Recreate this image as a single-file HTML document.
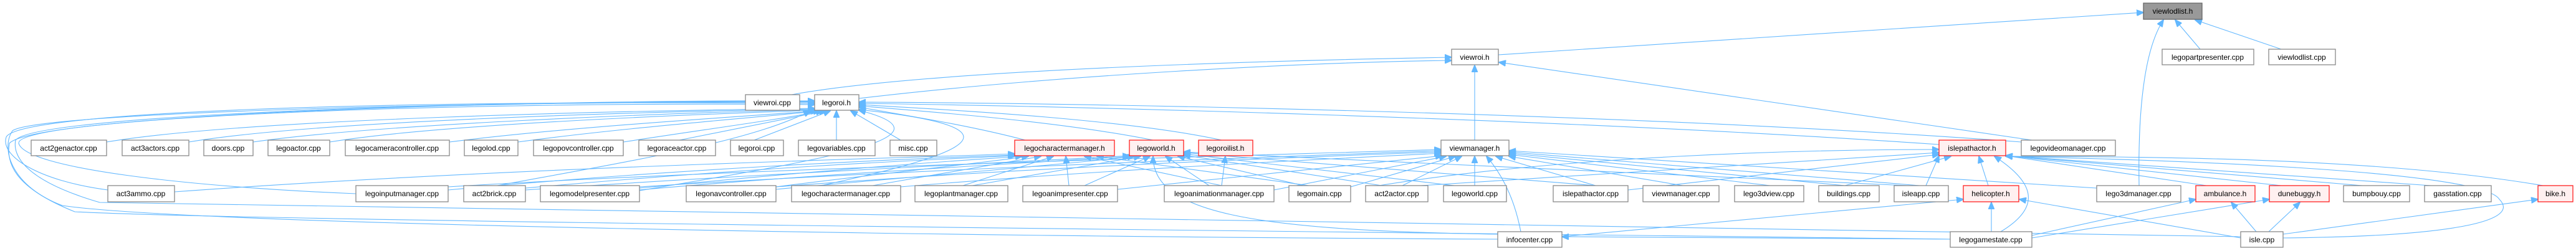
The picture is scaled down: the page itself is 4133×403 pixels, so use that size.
<!DOCTYPE html>
<html><head><meta charset="utf-8"><style>
html,body{margin:0;padding:0;background:#fff;}
svg{display:block;}
text{font-family:"Liberation Sans",Arial,sans-serif;font-size:12px;fill:#000;}
.n{fill:#fff;stroke:#888;stroke-width:1.3;}
.r{fill:#fff0f0;stroke:#ff2020;stroke-width:1.3;}
.g{fill:#999;stroke:#666;stroke-width:1.3;}
.e{fill:none;stroke:#63b8ff;stroke-width:1.1;}
</style></head><body>
<svg width="4133" height="403" viewBox="0 0 4133 403" xmlns="http://www.w3.org/2000/svg">
<defs><marker id="a" markerWidth="12" markerHeight="10" refX="11" refY="5" orient="auto" markerUnits="userSpaceOnUse"><path d="M0,0 L12,5 L0,10 z" fill="#63b8ff" stroke="#63b8ff"/></marker></defs>
<g class="e" marker-end="url(#a)">
<!-- viewlodlist.h -->
<path d="M2404,88 L3439,20"/>
<path d="M3530,79 L3490,32"/>
<path d="M3660,79 L3522,32"/>
<path d="M3432,298 C3430,180 3440,80 3471,32"/>
<!-- viewroi.h -->
<path d="M1270,152 C1500,110 2100,96 2329,92"/>
<path d="M1378,158 C1700,120 2100,100 2329,97"/>
<path d="M2366,225 L2366,105"/>
<path d="M3260,225 L2405,100"/>
<!-- legoroi.h from row4 -->
<path d="M171,228 C400,190 1000,178 1307,174"/>
<path d="M303,228 C500,195 1000,180 1307,175"/>
<path d="M406,228 C600,200 1050,182 1307,176"/>
<path d="M529,228 C700,200 1100,184 1309,177"/>
<path d="M721,228 C900,205 1150,190 1312,178"/>
<path d="M831,228 C1000,205 1200,190 1316,178"/>
<path d="M1000,228 C1150,205 1250,192 1320,178"/>
<path d="M1090,225 L1325,178"/>
<path d="M1210,225 L1332,178"/>
<path d="M1342,225 L1342,178"/>
<path d="M1445,225 L1365,178"/>
<path d="M1645,225 C1550,200 1450,185 1378,172"/>
<path d="M1850,225 C1700,195 1500,180 1378,170"/>
<path d="M1960,225 C1800,190 1500,175 1378,168"/>
<path d="M3111,232 C2500,190 1700,170 1378,166"/>
<path d="M3243,228 C2600,180 1700,165 1378,164"/>
<!-- legoroi.h long loops from row5/6 -->
<path d="M173,305 C60,290 0,250 10,220 C30,180 600,160 1307,166"/>
<path d="M571,311 C300,300 40,270 30,230 C25,190 700,162 1307,168"/>
<path d="M2403,384 C1500,380 300,360 100,330 C20,300 0,240 20,210 C60,180 800,162 1307,164"/>
<path d="M3129,384 C2000,370 400,355 120,340 C20,300 10,260 15,230 C60,185 800,160 1307,163"/>
<path d="M3595,380 C2500,360 600,335 160,325 C40,290 20,250 25,225 C60,180 900,160 1307,162"/>
<path d="M744,308 C1000,260 1200,230 1300,178"/>
<path d="M1026,306 C1300,260 1550,220 1378,177"/>
<path d="M1270,308 C1500,260 1700,210 1378,176"/>
<!-- legocharactermanager.h -->
<path d="M280,308 C800,270 1400,255 1628,247"/>
<path d="M719,305 C1100,270 1450,255 1628,249"/>
<path d="M843,302 C1200,270 1450,258 1630,250"/>
<path d="M1026,302 C1300,275 1500,260 1640,251"/>
<path d="M1245,300 C1400,280 1550,265 1650,251"/>
<path d="M1400,298 L1670,251"/>
<path d="M1545,298 L1690,251"/>
<path d="M1715,298 L1710,251"/>
<path d="M1960,298 L1740,251"/>
<path d="M2100,298 L1760,251"/>
<!-- legoworld.h -->
<path d="M843,305 C1200,280 1600,262 1812,250"/>
<path d="M1026,305 C1300,280 1650,262 1815,251"/>
<path d="M1245,304 C1450,285 1700,265 1820,251"/>
<path d="M1560,298 L1830,251"/>
<path d="M1740,298 L1845,251"/>
<path d="M1940,298 L1870,251"/>
<path d="M2100,300 L1890,251"/>
<path d="M2230,300 L1899,249"/>
<path d="M2350,300 L1899,247"/>
<path d="M2403,376 C2000,370 1850,340 1850,251"/>
<path d="M2560,298 L1899,245"/>
<path d="M3060,298 L1899,244"/>
<!-- legoroilist.h -->
<path d="M1960,298 L1966,251"/>
<!-- viewmanager.h -->
<path d="M719,300 C1200,270 2000,250 2312,240"/>
<path d="M1026,300 C1500,270 2100,250 2312,242"/>
<path d="M1245,300 C1700,265 2150,250 2312,244"/>
<path d="M1445,300 C1800,270 2200,252 2312,246"/>
<path d="M1793,304 L2314,250"/>
<path d="M2044,305 L2320,251"/>
<path d="M2167,300 L2335,251"/>
<path d="M2250,298 L2345,251"/>
<path d="M2366,298 L2366,251"/>
<path d="M2440,372 C2430,320 2410,280 2385,251"/>
<path d="M2560,298 L2400,251"/>
<path d="M2700,298 L2421,251"/>
<path d="M2840,298 L2421,248"/>
<path d="M2960,298 L2421,246"/>
<path d="M3080,298 L2421,244"/>
<path d="M3364,302 L2421,242"/>
<!-- islepathactor.h -->
<path d="M2280,298 L3111,245"/>
<path d="M2612,305 L3111,248"/>
<path d="M2960,298 L3130,251"/>
<path d="M3090,298 L3111,250"/>
<path d="M3190,298 L3175,251"/>
<path d="M3210,372 C3280,330 3260,290 3200,251"/>
<path d="M2200,300 C2500,250 2900,240 3111,240"/>
<path d="M3540,298 L3218,250"/>
<path d="M3660,298 L3218,250"/>
<path d="M3790,298 L3218,250"/>
<path d="M3900,298 L3218,250"/>
<path d="M4080,298 C3800,250 3400,252 3218,251"/>
<path d="M3663,382 C3900,380 4050,360 4010,320 C3980,270 3400,255 3218,251"/>
<!-- helicopter.h -->
<path d="M3195,372 L3195,325"/>
<path d="M2506,380 L3150,320"/>
<path d="M3595,382 L3240,320"/>
<!-- ambulance / dunebuggy / bike -->
<path d="M3620,372 L3580,325"/>
<path d="M3640,372 L3690,325"/>
<path d="M3260,378 L3523,320"/>
<path d="M3260,382 L3641,320"/>
<path d="M3663,376 L4072,320"/>
<!-- legogamestate / infocenter / isle misc -->
<path d="M3129,384 L2506,380"/>
</g>
<!-- nodes -->
<g>
<rect class="g" x="3439" y="5" width="94" height="26"/><text x="3486" y="22" text-anchor="middle">viewlodlist.h</text>
<rect class="n" x="2329" y="79" width="75" height="25"/><text x="2366" y="96" text-anchor="middle">viewroi.h</text>
<rect class="n" x="3469" y="79" width="147" height="25"/><text x="3542" y="96" text-anchor="middle">legopartpresenter.cpp</text>
<rect class="n" x="3640" y="79" width="107" height="25"/><text x="3693" y="96" text-anchor="middle">viewlodlist.cpp</text>
<rect class="n" x="1196" y="152" width="87" height="25"/><text x="1239" y="169" text-anchor="middle">viewroi.cpp</text>
<rect class="n" x="1307" y="152" width="71" height="25"/><text x="1342" y="169" text-anchor="middle">legoroi.h</text>

<rect class="n" x="50" y="225" width="121" height="25"/><text x="110" y="242" text-anchor="middle">act2genactor.cpp</text>
<rect class="n" x="196" y="225" width="107" height="25"/><text x="249" y="242" text-anchor="middle">act3actors.cpp</text>
<rect class="n" x="327" y="225" width="79" height="25"/><text x="366" y="242" text-anchor="middle">doors.cpp</text>
<rect class="n" x="430" y="225" width="99" height="25"/><text x="479" y="242" text-anchor="middle">legoactor.cpp</text>
<rect class="n" x="554" y="225" width="167" height="25"/><text x="637" y="242" text-anchor="middle">legocameracontroller.cpp</text>
<rect class="n" x="745" y="225" width="86" height="25"/><text x="788" y="242" text-anchor="middle">legolod.cpp</text>
<rect class="n" x="856" y="225" width="144" height="25"/><text x="928" y="242" text-anchor="middle">legopovcontroller.cpp</text>
<rect class="n" x="1025" y="225" width="123" height="25"/><text x="1086" y="242" text-anchor="middle">legoraceactor.cpp</text>
<rect class="n" x="1172" y="225" width="85" height="25"/><text x="1214" y="242" text-anchor="middle">legoroi.cpp</text>
<rect class="n" x="1281" y="225" width="123" height="25"/><text x="1342" y="242" text-anchor="middle">legovariables.cpp</text>
<rect class="n" x="1428" y="225" width="75" height="25"/><text x="1465" y="242" text-anchor="middle">misc.cpp</text>
<rect class="r" x="1628" y="225" width="160" height="25"/><text x="1708" y="242" text-anchor="middle">legocharactermanager.h</text>
<rect class="r" x="1812" y="225" width="87" height="25"/><text x="1855" y="242" text-anchor="middle">legoworld.h</text>
<rect class="r" x="1923" y="225" width="87" height="25"/><text x="1966" y="242" text-anchor="middle">legoroilist.h</text>
<rect class="n" x="2312" y="225" width="109" height="25"/><text x="2366" y="242" text-anchor="middle">viewmanager.h</text>
<rect class="r" x="3111" y="225" width="107" height="25"/><text x="3164" y="242" text-anchor="middle">islepathactor.h</text>
<rect class="n" x="3243" y="225" width="151" height="25"/><text x="3318" y="242" text-anchor="middle">legovideomanager.cpp</text>

<rect class="n" x="173" y="298" width="107" height="26"/><text x="226" y="315" text-anchor="middle">act3ammo.cpp</text>
<rect class="n" x="571" y="298" width="148" height="26"/><text x="645" y="315" text-anchor="middle">legoinputmanager.cpp</text>
<rect class="n" x="744" y="298" width="99" height="26"/><text x="793" y="315" text-anchor="middle">act2brick.cpp</text>
<rect class="n" x="867" y="298" width="159" height="26"/><text x="946" y="315" text-anchor="middle">legomodelpresenter.cpp</text>
<rect class="n" x="1101" y="298" width="144" height="26"/><text x="1173" y="315" text-anchor="middle">legonavcontroller.cpp</text>
<rect class="n" x="1270" y="298" width="175" height="26"/><text x="1357" y="315" text-anchor="middle">legocharactermanager.cpp</text>
<rect class="n" x="1468" y="298" width="149" height="26"/><text x="1542" y="315" text-anchor="middle">legoplantmanager.cpp</text>
<rect class="n" x="1641" y="298" width="152" height="26"/><text x="1717" y="315" text-anchor="middle">legoanimpresenter.cpp</text>
<rect class="n" x="1868" y="298" width="176" height="26"/><text x="1956" y="315" text-anchor="middle">legoanimationmanager.cpp</text>
<rect class="n" x="2068" y="298" width="99" height="26"/><text x="2117" y="315" text-anchor="middle">legomain.cpp</text>
<rect class="n" x="2191" y="298" width="100" height="26"/><text x="2241" y="315" text-anchor="middle">act2actor.cpp</text>
<rect class="n" x="2316" y="298" width="101" height="26"/><text x="2366" y="315" text-anchor="middle">legoworld.cpp</text>
<rect class="n" x="2492" y="298" width="120" height="26"/><text x="2552" y="315" text-anchor="middle">islepathactor.cpp</text>
<rect class="n" x="2636" y="298" width="122" height="26"/><text x="2697" y="315" text-anchor="middle">viewmanager.cpp</text>
<rect class="n" x="2783" y="298" width="111" height="26"/><text x="2838" y="315" text-anchor="middle">lego3dview.cpp</text>
<rect class="n" x="2918" y="298" width="97" height="26"/><text x="2966" y="315" text-anchor="middle">buildings.cpp</text>
<rect class="n" x="3039" y="298" width="87" height="26"/><text x="3082" y="315" text-anchor="middle">isleapp.cpp</text>
<rect class="r" x="3150" y="298" width="89" height="26"/><text x="3194" y="315" text-anchor="middle">helicopter.h</text>
<rect class="n" x="3364" y="298" width="135" height="26"/><text x="3431" y="315" text-anchor="middle">lego3dmanager.cpp</text>
<rect class="r" x="3523" y="298" width="95" height="26"/><text x="3570" y="315" text-anchor="middle">ambulance.h</text>
<rect class="r" x="3641" y="298" width="96" height="26"/><text x="3689" y="315" text-anchor="middle">dunebuggy.h</text>
<rect class="n" x="3760" y="298" width="106" height="26"/><text x="3813" y="315" text-anchor="middle">bumpbouy.cpp</text>
<rect class="n" x="3890" y="298" width="107" height="26"/><text x="3943" y="315" text-anchor="middle">gasstation.cpp</text>
<rect class="r" x="4072" y="298" width="56" height="26"/><text x="4100" y="315" text-anchor="middle">bike.h</text>

<rect class="n" x="2403" y="372" width="103" height="25"/><text x="2454" y="389" text-anchor="middle">infocenter.cpp</text>
<rect class="n" x="3129" y="372" width="131" height="25"/><text x="3194" y="389" text-anchor="middle">legogamestate.cpp</text>
<rect class="n" x="3595" y="372" width="68" height="25"/><text x="3629" y="389" text-anchor="middle">isle.cpp</text>
</g>
</svg>
</body></html>
